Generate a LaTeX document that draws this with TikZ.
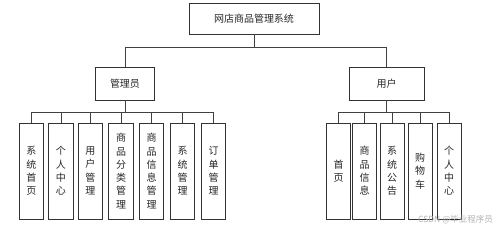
\documentclass[tikz,border=0pt]{standalone}
\usepackage{fontspec}
\newfontfamily\cjk{Noto Sans CJK SC}
\begin{document}
\begin{tikzpicture}[x=1pt,y=-1pt,
  box/.style={draw=black!80,line width=0.9pt,fill=white,inner sep=0pt,font=\cjk\fontsize{10}{13.3}\selectfont,text=black!85,align=center},
  conn/.style={draw=black!75,line width=0.9pt}]
\useasboundingbox (0,0) rectangle (499,229);
% top
\node[box,minimum width=130,minimum height=31] (root) at (254,18.5) {网店商品管理系统};
\node[box,minimum width=59,minimum height=33] (adm) at (125,83.5) {管理员};
\node[box,minimum width=75,minimum height=33] (usr) at (386.5,83.5) {用户};
\coordinate (rb) at (root.south |- 0,47);
\draw[conn] (root.south) -- (rb);
\draw[conn] (adm.north) |- (usr.north |- rb) -- (usr.north);
% admin children
\foreach \n/\x/\t in {a1/31.5/{系\\统\\首\\页}, a2/61/{个\\人\\中\\心}, a3/90.5/{用\\户\\管\\理}, a4/121/{商\\品\\分\\类\\管\\理}, a5/151.5/{商\\品\\信\\息\\管\\理}, a6/182.5/{系\\统\\管\\理}, a7/213.5/{订\\单\\管\\理}}{
  \node[box,minimum width=24.5,minimum height=96,text width=20] (\n) at (\x,171) {\t};
}
\foreach \n/\x/\t in {u1/338.5/{首\\页}, u2/364.5/{商\\品\\信\\息}, u3/392/{系\\统\\公\\告}, u4/420/{购\\物\\车}, u5/449/{个\\人\\中\\心}}{
  \node[box,minimum width=24,minimum height=96,text width=20] (\n) at (\x,171) {\t};
}
\coordinate (ab) at (adm.south |- 0,112);
\draw[conn] (adm.south) -- (ab);
\draw[conn] (a1.north) |- (a7.north |- ab) -- (a7.north);
\foreach \n in {a2,a3,a4,a5,a6}{\draw[conn] (\n.north) -- (\n.north |- ab);}
\coordinate (ub) at (usr.south |- 0,112);
\draw[conn] (usr.south) -- (ub);
\draw[conn] (u1.north) |- (u5.north |- ub) -- (u5.north);
\foreach \n in {u2,u3,u4}{\draw[conn] (\n.north) -- (\n.north |- ub);}
\node[font=\cjk\fontsize{8.5}{9}\selectfont,text=black!30,anchor=east,inner sep=0pt] (wm) at (493,220) {CSDN @毕业程序员};
\end{tikzpicture}
\end{document}
